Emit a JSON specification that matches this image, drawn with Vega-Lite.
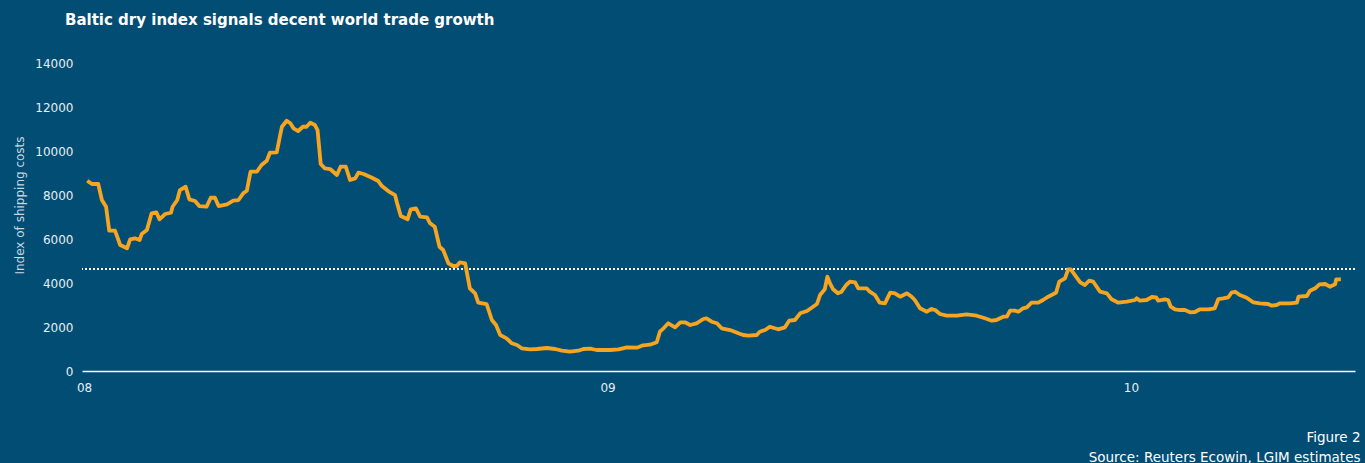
{
  "$schema": "https://vega.github.io/schema/vega-lite/v6.json",
  "autosize": {"type": "none"},
  "padding": {"left": 82, "top": 63, "right": 10, "bottom": 92},
  "width": 1273,
  "height": 308,
  "background": "#024d74",
  "title": {
    "text": "Baltic dry index signals decent world trade growth",
    "anchor": "start",
    "frame": "group",
    "dx": -17,
    "offset": 29,
    "color": "#ffffff",
    "font": "DejaVu Sans",
    "fontSize": 15,
    "fontWeight": "bold"
  },
  "config": {
    "view": {"stroke": null},
    "font": "DejaVu Sans",
    "axis": {"labelFont": "DejaVu Sans", "titleFont": "DejaVu Sans"}
  },
  "data": {
    "values": [
      {"year": 2008.006, "index": 8650}, {"year": 2008.015, "index": 8500}, {"year": 2008.027, "index": 8500},
      {"year": 2008.034, "index": 7772}, {"year": 2008.042, "index": 7467}, {"year": 2008.048, "index": 6377},
      {"year": 2008.059, "index": 6377}, {"year": 2008.069, "index": 5727}, {"year": 2008.082, "index": 5577},
      {"year": 2008.088, "index": 5986}, {"year": 2008.097, "index": 6031}, {"year": 2008.106, "index": 5954},
      {"year": 2008.110, "index": 6227}, {"year": 2008.120, "index": 6408}, {"year": 2008.129, "index": 7167},
      {"year": 2008.138, "index": 7213}, {"year": 2008.144, "index": 6895}, {"year": 2008.155, "index": 7136},
      {"year": 2008.166, "index": 7195}, {"year": 2008.169, "index": 7467}, {"year": 2008.178, "index": 7772},
      {"year": 2008.183, "index": 8226}, {"year": 2008.194, "index": 8376}, {"year": 2008.201, "index": 7804},
      {"year": 2008.212, "index": 7727}, {"year": 2008.220, "index": 7499}, {"year": 2008.234, "index": 7467},
      {"year": 2008.242, "index": 7876}, {"year": 2008.250, "index": 7876}, {"year": 2008.257, "index": 7499},
      {"year": 2008.273, "index": 7576}, {"year": 2008.285, "index": 7740}, {"year": 2008.295, "index": 7772},
      {"year": 2008.304, "index": 8076}, {"year": 2008.311, "index": 8195}, {"year": 2008.318, "index": 9058},
      {"year": 2008.330, "index": 9058}, {"year": 2008.339, "index": 9363}, {"year": 2008.349, "index": 9558},
      {"year": 2008.355, "index": 9922}, {"year": 2008.368, "index": 9940}, {"year": 2008.374, "index": 10649},
      {"year": 2008.378, "index": 11103}, {"year": 2008.387, "index": 11376}, {"year": 2008.394, "index": 11258},
      {"year": 2008.400, "index": 11031}, {"year": 2008.409, "index": 10908}, {"year": 2008.418, "index": 11103},
      {"year": 2008.425, "index": 11103}, {"year": 2008.432, "index": 11285}, {"year": 2008.441, "index": 11181},
      {"year": 2008.446, "index": 10953}, {"year": 2008.449, "index": 10194}, {"year": 2008.452, "index": 9408},
      {"year": 2008.460, "index": 9213}, {"year": 2008.470, "index": 9181}, {"year": 2008.483, "index": 8908},
      {"year": 2008.490, "index": 9286}, {"year": 2008.500, "index": 9286}, {"year": 2008.508, "index": 8681},
      {"year": 2008.518, "index": 8758}, {"year": 2008.524, "index": 9013}, {"year": 2008.534, "index": 8954},
      {"year": 2008.550, "index": 8786}, {"year": 2008.562, "index": 8636}, {"year": 2008.569, "index": 8408},
      {"year": 2008.581, "index": 8181}, {"year": 2008.594, "index": 7999}, {"year": 2008.598, "index": 7622},
      {"year": 2008.605, "index": 7045}, {"year": 2008.618, "index": 6895}, {"year": 2008.624, "index": 7349},
      {"year": 2008.634, "index": 7395}, {"year": 2008.642, "index": 7022}, {"year": 2008.655, "index": 6986},
      {"year": 2008.661, "index": 6713}, {"year": 2008.670, "index": 6558}, {"year": 2008.679, "index": 5649},
      {"year": 2008.686, "index": 5499}, {"year": 2008.696, "index": 4895}, {"year": 2008.705, "index": 4772},
      {"year": 2008.712, "index": 4772}, {"year": 2008.718, "index": 4940}, {"year": 2008.728, "index": 4895},
      {"year": 2008.737, "index": 3759}, {"year": 2008.747, "index": 3531}, {"year": 2008.753, "index": 3104},
      {"year": 2008.769, "index": 3045}, {"year": 2008.779, "index": 2318}, {"year": 2008.787, "index": 2091},
      {"year": 2008.795, "index": 1636}, {"year": 2008.807, "index": 1486}, {"year": 2008.817, "index": 1259},
      {"year": 2008.827, "index": 1182}, {"year": 2008.836, "index": 1032}, {"year": 2008.852, "index": 986},
      {"year": 2008.865, "index": 1000}, {"year": 2008.884, "index": 1045}, {"year": 2008.900, "index": 1000},
      {"year": 2008.913, "index": 923}, {"year": 2008.928, "index": 877}, {"year": 2008.944, "index": 923},
      {"year": 2008.954, "index": 1000}, {"year": 2008.967, "index": 1014}, {"year": 2008.979, "index": 954},
      {"year": 2009.005, "index": 954}, {"year": 2009.021, "index": 986}, {"year": 2009.037, "index": 1077},
      {"year": 2009.056, "index": 1059}, {"year": 2009.068, "index": 1168}, {"year": 2009.081, "index": 1195},
      {"year": 2009.094, "index": 1304}, {"year": 2009.100, "index": 1786}, {"year": 2009.107, "index": 1941},
      {"year": 2009.116, "index": 2168}, {"year": 2009.129, "index": 1986}, {"year": 2009.139, "index": 2213},
      {"year": 2009.148, "index": 2213}, {"year": 2009.158, "index": 2091}, {"year": 2009.170, "index": 2168},
      {"year": 2009.183, "index": 2363}, {"year": 2009.189, "index": 2395}, {"year": 2009.199, "index": 2241},
      {"year": 2009.209, "index": 2168}, {"year": 2009.218, "index": 1941}, {"year": 2009.234, "index": 1863},
      {"year": 2009.250, "index": 1713}, {"year": 2009.259, "index": 1636}, {"year": 2009.269, "index": 1604},
      {"year": 2009.285, "index": 1636}, {"year": 2009.291, "index": 1786}, {"year": 2009.301, "index": 1863},
      {"year": 2009.310, "index": 2013}, {"year": 2009.326, "index": 1895}, {"year": 2009.339, "index": 1986},
      {"year": 2009.347, "index": 2286}, {"year": 2009.358, "index": 2318}, {"year": 2009.368, "index": 2622},
      {"year": 2009.381, "index": 2727}, {"year": 2009.390, "index": 2877}, {"year": 2009.400, "index": 3045},
      {"year": 2009.406, "index": 3454}, {"year": 2009.415, "index": 3713}, {"year": 2009.420, "index": 4286},
      {"year": 2009.425, "index": 3986}, {"year": 2009.431, "index": 3713}, {"year": 2009.440, "index": 3531},
      {"year": 2009.447, "index": 3604}, {"year": 2009.456, "index": 3909}, {"year": 2009.463, "index": 4059},
      {"year": 2009.473, "index": 4031}, {"year": 2009.479, "index": 3759}, {"year": 2009.495, "index": 3759},
      {"year": 2009.501, "index": 3604}, {"year": 2009.511, "index": 3454}, {"year": 2009.520, "index": 3104},
      {"year": 2009.530, "index": 3077}, {"year": 2009.540, "index": 3559}, {"year": 2009.549, "index": 3531},
      {"year": 2009.559, "index": 3377}, {"year": 2009.572, "index": 3531}, {"year": 2009.581, "index": 3377},
      {"year": 2009.587, "index": 3227}, {"year": 2009.597, "index": 2850}, {"year": 2009.610, "index": 2695},
      {"year": 2009.619, "index": 2818}, {"year": 2009.626, "index": 2772}, {"year": 2009.635, "index": 2591},
      {"year": 2009.648, "index": 2513}, {"year": 2009.667, "index": 2513}, {"year": 2009.686, "index": 2577},
      {"year": 2009.705, "index": 2513}, {"year": 2009.721, "index": 2395}, {"year": 2009.734, "index": 2286},
      {"year": 2009.743, "index": 2318}, {"year": 2009.756, "index": 2468}, {"year": 2009.763, "index": 2468},
      {"year": 2009.769, "index": 2741}, {"year": 2009.778, "index": 2741}, {"year": 2009.785, "index": 2695},
      {"year": 2009.794, "index": 2850}, {"year": 2009.801, "index": 2895}, {"year": 2009.810, "index": 3104},
      {"year": 2009.823, "index": 3104}, {"year": 2009.832, "index": 3227}, {"year": 2009.842, "index": 3377},
      {"year": 2009.852, "index": 3500}, {"year": 2009.857, "index": 3568}, {"year": 2009.863, "index": 4059},
      {"year": 2009.874, "index": 4213}, {"year": 2009.880, "index": 4622}, {"year": 2009.885, "index": 4622},
      {"year": 2009.893, "index": 4363}, {"year": 2009.903, "index": 4031}, {"year": 2009.912, "index": 3909},
      {"year": 2009.920, "index": 4104}, {"year": 2009.928, "index": 4059}, {"year": 2009.941, "index": 3604},
      {"year": 2009.954, "index": 3531}, {"year": 2009.963, "index": 3259}, {"year": 2009.976, "index": 3104},
      {"year": 2009.992, "index": 3150}, {"year": 2010.008, "index": 3227}, {"year": 2010.011, "index": 3304},
      {"year": 2010.017, "index": 3195}, {"year": 2010.030, "index": 3227}, {"year": 2010.040, "index": 3363},
      {"year": 2010.048, "index": 3350}, {"year": 2010.052, "index": 3195}, {"year": 2010.065, "index": 3259},
      {"year": 2010.071, "index": 3227}, {"year": 2010.076, "index": 2922}, {"year": 2010.084, "index": 2804},
      {"year": 2010.094, "index": 2772}, {"year": 2010.103, "index": 2772}, {"year": 2010.113, "index": 2668},
      {"year": 2010.122, "index": 2682}, {"year": 2010.132, "index": 2804}, {"year": 2010.148, "index": 2804},
      {"year": 2010.160, "index": 2850}, {"year": 2010.167, "index": 3272}, {"year": 2010.176, "index": 3304},
      {"year": 2010.186, "index": 3350}, {"year": 2010.192, "index": 3559}, {"year": 2010.199, "index": 3604},
      {"year": 2010.208, "index": 3454}, {"year": 2010.221, "index": 3331}, {"year": 2010.234, "index": 3122},
      {"year": 2010.246, "index": 3077}, {"year": 2010.262, "index": 3045}, {"year": 2010.269, "index": 2968},
      {"year": 2010.278, "index": 3000}, {"year": 2010.285, "index": 3077}, {"year": 2010.304, "index": 3077},
      {"year": 2010.317, "index": 3104}, {"year": 2010.320, "index": 3377}, {"year": 2010.336, "index": 3409},
      {"year": 2010.342, "index": 3650}, {"year": 2010.352, "index": 3759}, {"year": 2010.360, "index": 3940},
      {"year": 2010.371, "index": 3954}, {"year": 2010.380, "index": 3831}, {"year": 2010.390, "index": 3940},
      {"year": 2010.392, "index": 4168}, {"year": 2010.401, "index": 4168}
    ]
  },
  "encoding": {
    "x": {
      "field": "year",
      "type": "quantitative",
      "scale": {"domain": [2007.996, 2010.428], "nice": false, "zero": false},
      "axis": {
        "values": [2008, 2009, 2010],
        "labelExpr": "slice(toString(datum.value), 2)",
        "grid": false,
        "ticks": false,
        "domainColor": "#ffffff",
        "domainWidth": 1.5,
        "labelColor": "#e8eef3",
        "labelFontSize": 12,
        "labelPadding": 11,
        "title": ["Figure 2", "Source: Reuters Ecowin, LGIM estimates"],
        "titleColor": "#ffffff",
        "titleFontSize": 13.5,
        "titleFontWeight": "normal",
        "titleAnchor": "end",
        "titleAlign": "right",
        "titleBaseline": "top",
        "titleLineHeight": 20,
        "titleX": 1278,
        "titleY": 59
      }
    },
    "y": {
      "field": "index",
      "type": "quantitative",
      "scale": {"domain": [0, 14000], "nice": false},
      "axis": {
        "values": [0, 2000, 4000, 6000, 8000, 10000, 12000, 14000],
        "format": "d",
        "grid": false,
        "ticks": false,
        "domain": false,
        "labelColor": "#e8eef3",
        "labelFontSize": 12,
        "labelPadding": 9,
        "title": "Index of shipping costs",
        "titleColor": "#c9d6e0",
        "titleFontSize": 12,
        "titleFontWeight": "normal",
        "titleBaseline": "middle",
        "titleX": -63,
        "titleY": 142
      }
    }
  },
  "layer": [
    {
      "mark": {"type": "rule", "color": "#ffffff", "strokeDash": [1.2, 2.8], "strokeWidth": 1, "opacity": 0.9},
      "encoding": {"y": {"datum": 4640}, "x": null}
    },
    {
      "mark": {"type": "line", "color": "#f7a521", "strokeWidth": 3.8, "strokeJoin": "round"}
    }
  ]
}
